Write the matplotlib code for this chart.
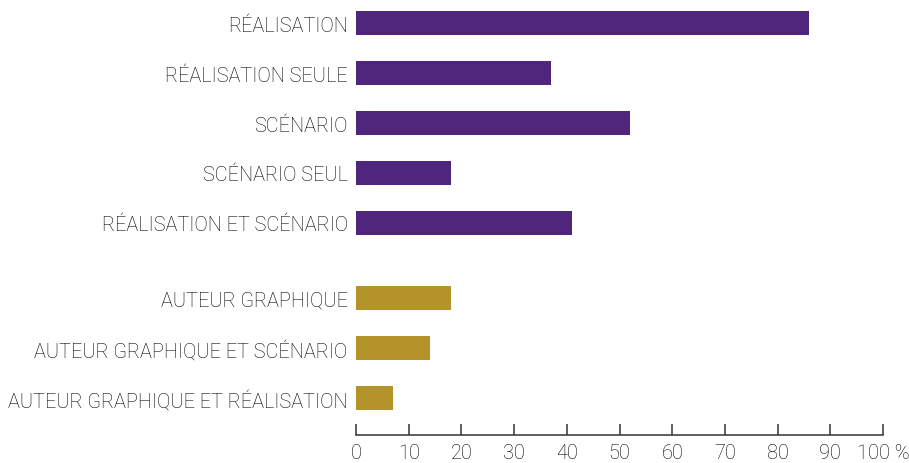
import matplotlib
matplotlib.use("Agg")
import matplotlib.pyplot as plt

categories = ["RÉALISATION", "RÉALISATION SEULE", "SCÉNARIO", "SCÉNARIO SEUL",
              "RÉALISATION ET SCÉNARIO", "AUTEUR GRAPHIQUE",
              "AUTEUR GRAPHIQUE ET SCÉNARIO", "AUTEUR GRAPHIQUE ET RÉALISATION"]
values = [86, 37, 52, 18, 41, 18, 14, 7]
groups = [0, 0, 0, 0, 0, 1, 1, 1]
group_colors = ["#50267C", "#B4932B"]
xticks = list(range(0, 101, 10))
xticklabels = [str(t) for t in xticks[:-1]] + ["100 %"]

plt.rcParams['font.family'] = ['Roboto', 'DejaVu Sans']
fig = plt.figure(figsize=(9.09, 4.64), dpi=100)
ax = fig.add_axes([356/909, 1 - 436/464, 527/909, 436/464])

positions = []
pos = 0.0
prev = groups[0]
for g in groups:
    if g != prev:
        pos += 0.5
        prev = g
    positions.append(pos)
    pos += 1

ax.barh(positions, values, height=0.48, color=[group_colors[g] for g in groups])
ax.set_ylim(8.24, -0.48)
ax.set_xlim(0, 100)
ax.set_yticks(positions)
ax.set_yticklabels(categories, fontsize=14.3, color="#000000", fontweight="light")
ax.set_xticks(xticks)
ax.set_xticklabels(xticklabels, fontsize=14.3, color="#000000", fontweight="light")
ax.tick_params(axis="y", length=0, pad=6)
ax.tick_params(axis="x", direction="in", length=8, width=1.1, color="#333333", pad=6)
for s in ["top", "right", "left"]:
    ax.spines[s].set_visible(False)
ax.spines["bottom"].set_color("#333333")
ax.spines["bottom"].set_linewidth(1.1)

fig.savefig("out.png", dpi=100)
